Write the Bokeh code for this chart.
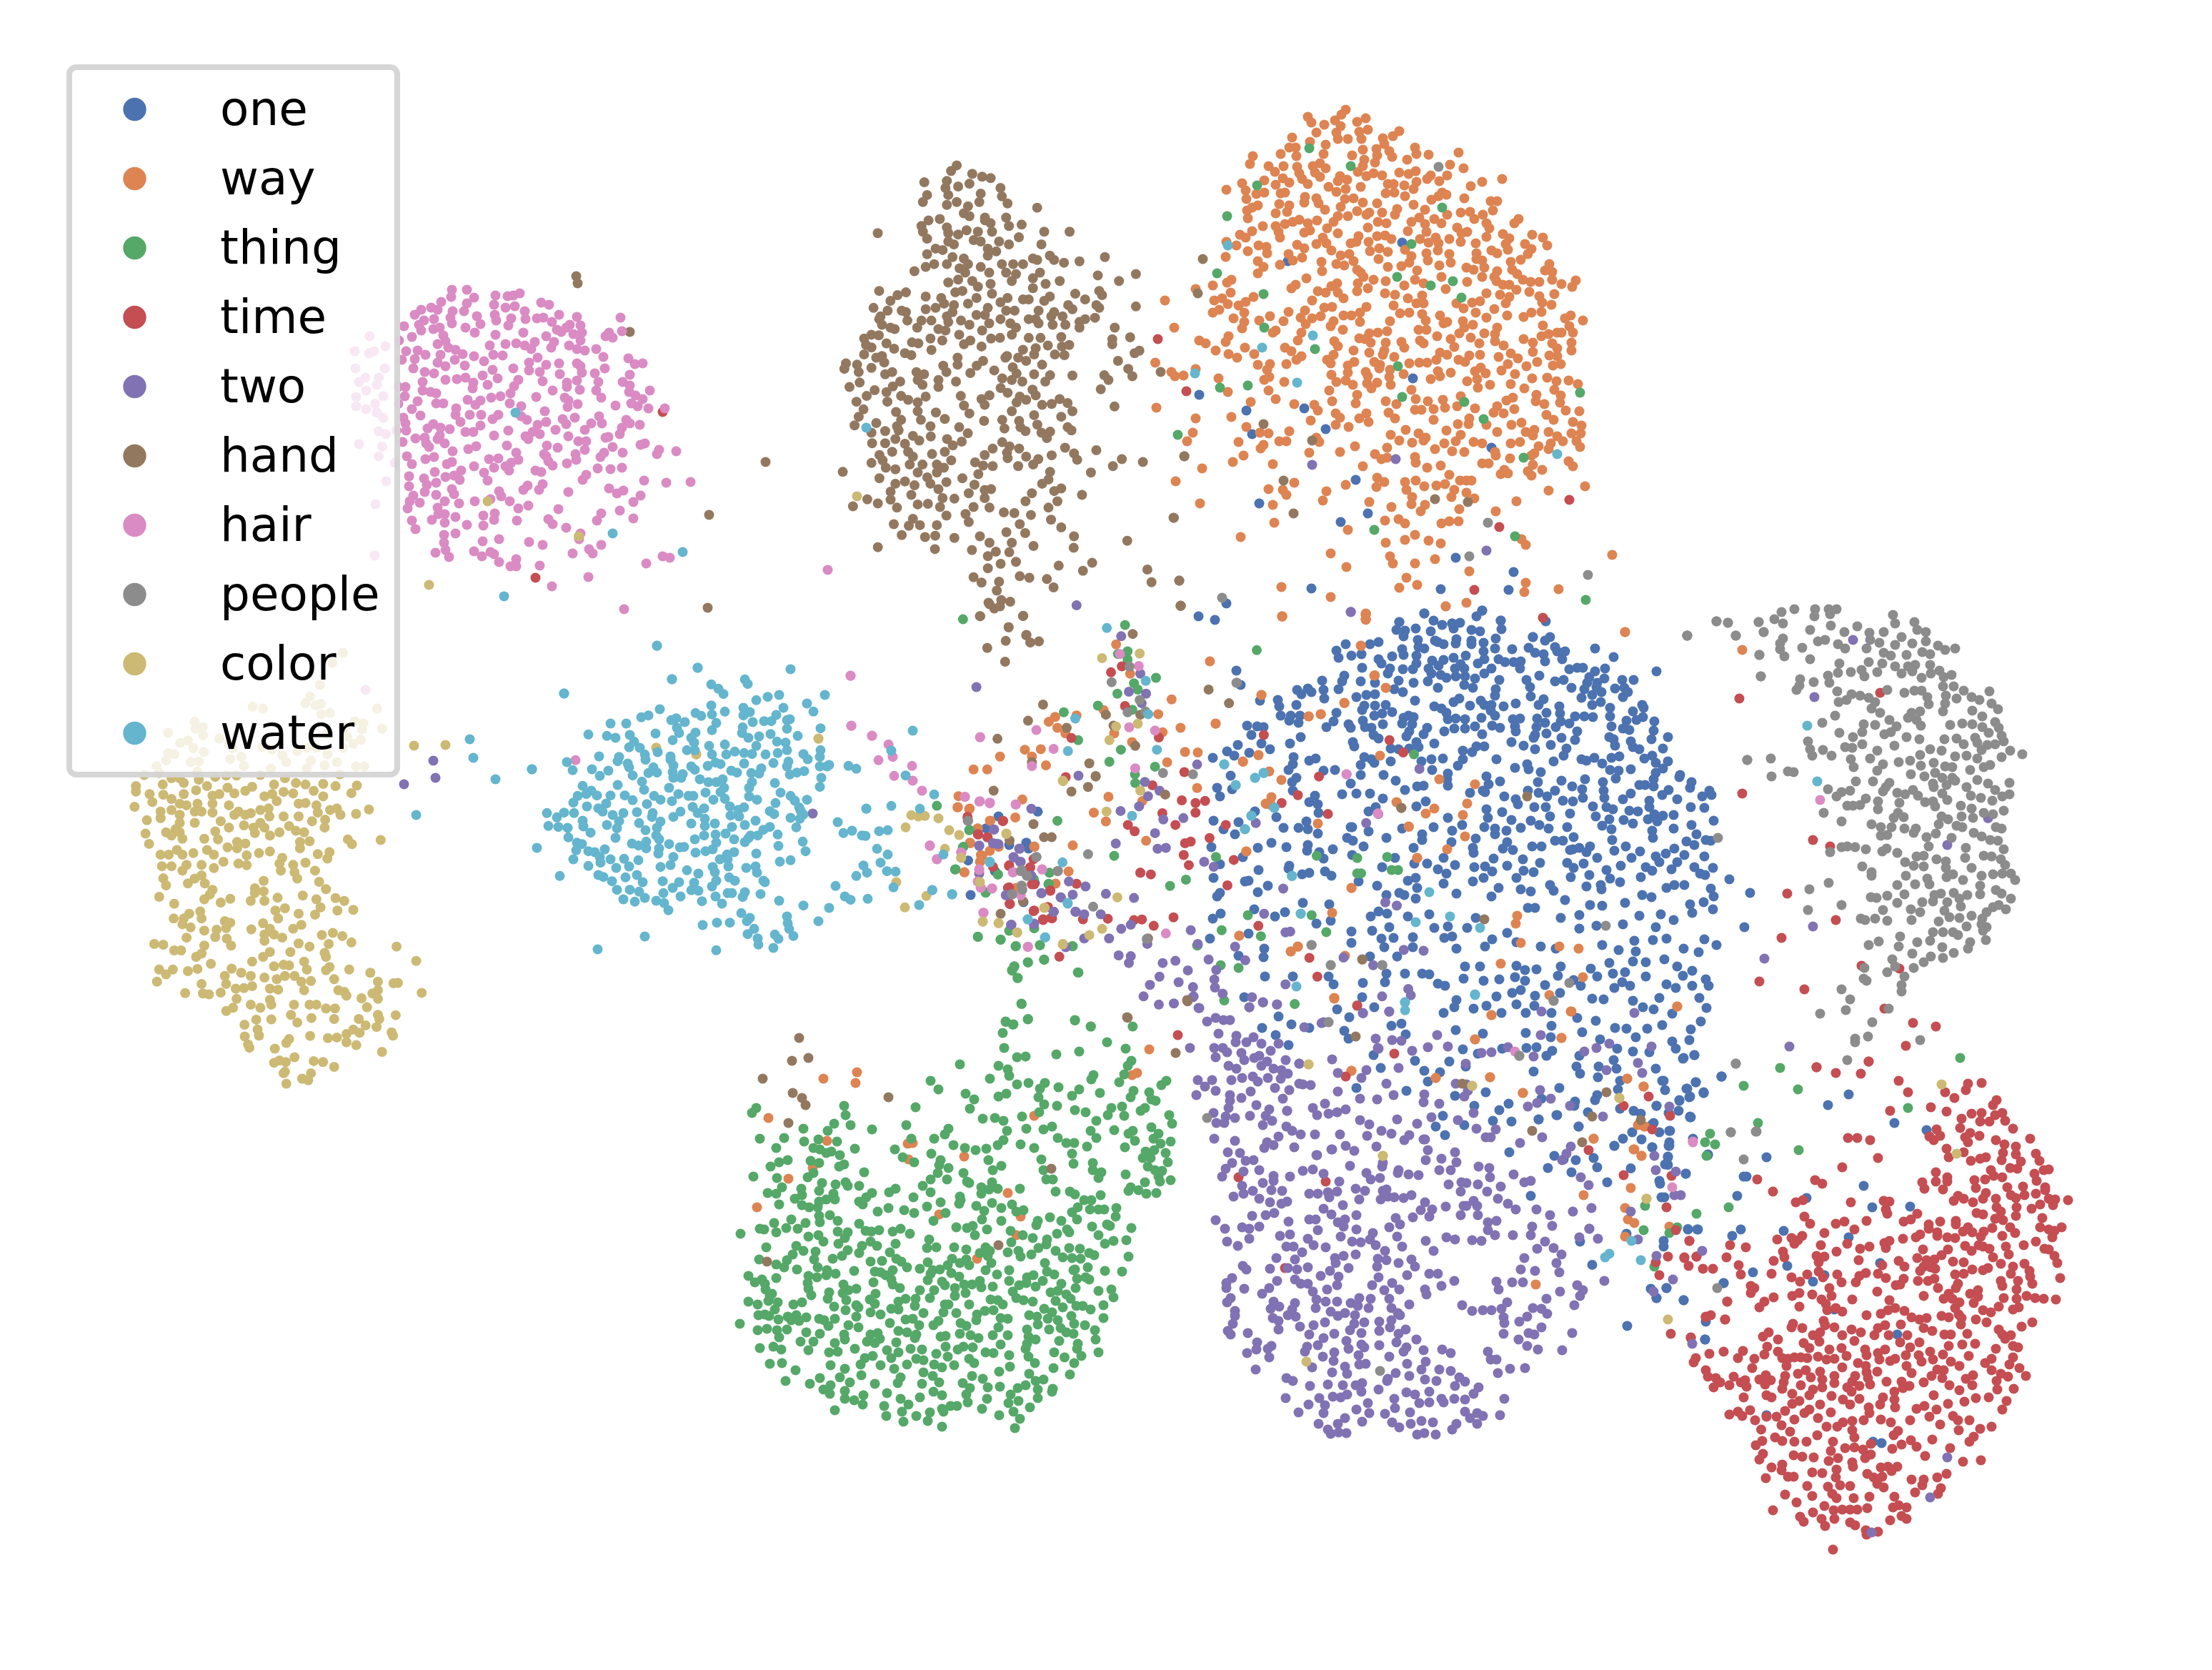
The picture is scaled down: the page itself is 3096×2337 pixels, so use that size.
from bokeh.plotting import figure
from bokeh.models import Range1d, Legend, LegendItem
from bokeh.embed import file_html
from bokeh.resources import INLINE

names=["one","way","thing","time","two","hand","hair","people","color","water"]
cols=["#4C72B0","#DD8452","#55A868","#C44E52","#8172B3","#937860","#DA8BC3","#8C8C8C","#CCB974","#64B5CD"]

A=(1620,130,2,2);B=(1700,850,2,2);C=(1650,1400,2,2);D=(1020,1400,2,2);E=(2300,1480,2,2);F=(2300,820,2,2);G=(470,370,2,2);H=(740,900,2,3);M=(1300,850,2.24,2.613);T=(1100,200,2.24,2.24);K=(60,900,2.613,2.24)

way_a=[542,62,530,76,436,82,446,98,512,92,574,96,598,86,482,104,528,108,460,126,516,126,604,118,580,124,692,122,674,136,392,140,520,144,548,144,586,144,646,142,486,160,442,152,650,158,384,168,402,168,736,168,590,174,628,172,664,178,360,186,404,192,282,192,480,186,740,186,774,188,858,182,560,190,630,190,672,194,714,202,274,214,326,220,368,220,406,222,450,220,470,212,594,202,624,210,590,220,834,216,872,226,344,236,412,240,456,238,486,226,576,236,526,248,600,248,620,240,644,246,692,238,718,242,738,234,780,246,826,246,804,262,770,256,314,260,366,254,420,256,470,250,546,258,660,270,676,270,740,264,892,276,924,264,980,256,252,268,346,272,384,266,436,270,494,278,520,262,584,278,706,274,262,288,208,286,516,292,542,284,654,296,678,294,732,284,812,294,292,298,314,294,372,294,360,296,428,306,460,310,564,310,708,304,802,304,824,300,874,310,948,318,966,318,264,312,426,322,356,326,384,330,296,330,466,324,540,312,590,322,630,324,732,328,782,314,266,344,280,336,346,352,378,348,484,342,528,334,574,346,608,350,644,350,686,340,764,342,826,356,864,350,890,348,954,344,268,366,412,370,462,372,520,360,548,360,600,356,680,356,726,376,748,364,790,368,902,368,926,356,1026,368,1014,380,310,388,346,388,372,382,394,376,436,380,508,376,632,376,656,380,764,382,810,380,936,380,604,392,426,406,354,404,490,394,716,402,854,392,768,404,944,394,520,408,280,402,246,412,262,420,358,420,442,400,578,416,630,416,652,414,750,424,794,420,866,408,882,404,936,418,982,410,1064,412,1094,420,478,420,572,432,606,432,670,424,832,424,864,432,906,436,1000,422,298,442,320,446,406,440,236,442,460,438,488,436,556,436,774,434,802,436,990,438,1044,438,1106,442,208,432,268,458,426,450,502,456,610,458,636,450,660,460,708,454,800,456,832,466,996,454,950,456,966,464,1062,452,322,464,382,466,206,474,528,470,552,466,768,464,908,464,1052,466,420,476,296,486,394,484,474,488,564,486,634,480,726,472,772,484,836,490,908,480,1032,482,1004,488,312,502,358,496,516,494,538,498,574,510,660,502,698,500,720,490,804,498,924,484,1112,494,296,520,476,514,584,518,742,512,880,504,900,510,930,504,966,514,1100,512,1120,516,1008,510,1022,522,222,538,432,534,592,530,810,530,924,530,958,530,1038,538,1060,544,1084,544,1120,538,1186,540,210,546,620,538,654,542,736,538,882,544,964,542,1146,550,1176,558,170,554,402,552,576,548,518,548,706,554,760,548,822,564,982,552,1000,552,1020,566,390,562,502,556,604,562,574,570,464,570,486,574,520,574,652,576,756,582,680,580,1056,572,1084,584,1126,578,220,574,122,564,284,586,448,596,536,590,716,590,974,580,1000,586,936,576,196,590,174,596,212,606,262,600,36,596,740,604,760,604,676,610,600,614,504,614,482,616,896,602,918,598,958,620,990,604,1092,602,1118,608,242,610,188,622,170,630,428,624,872,618,852,604,258,630,382,628,694,632,720,630,906,630,936,644,994,638,1090,628,1062,630,1040,642,330,640,416,644,472,640,536,638,558,638,582,630,756,634,1156,646,1172,638,228,646,300,652,368,654,448,646,508,654,582,656,666,654,766,652,806,638,816,660,826,656,870,654,1206,652,258,656,430,662,500,668,534,678,898,664,966,672,1094,666,1168,668,62,672,252,674,346,680,418,686,874,672,580,702,608,688,632,686,658,682,746,678,768,678,930,688,1110,690,1146,686,1178,686,132,708,214,696,338,686,408,708,596,704,612,714,798,696,860,688,892,700,960,690,1040,704,1090,696,1134,686,150,716,206,712,510,710,698,712,654,714,750,708,836,704,916,716,960,710,1066,714,1120,716,1174,714,178,736,260,728,372,728,520,724,706,728,760,716,846,726,984,722,1174,736,390,738,650,736,564,736,608,742,1134,730,1004,744,1066,740,214,746,286,746,508,748,646,748,806,742,918,748,970,754,1024,758,1112,750,238,756,418,752,404,762,678,754,826,748,888,750,876,768,858,762,1134,752,490,762,566,768,622,768,9,770,330,774,296,776,376,774,500,772,548,778,638,776,748,770,720,772,770,770,796,762,996,774,1048,780,1078,768,1122,778,1144,774,322,790,122,788,54,796,636,786,598,796,666,790,800,794,836,798,920,784,904,794,934,800,978,792,1016,802,64,808,88,806,186,814,328,810,502,804,548,798,604,808,704,802,664,810,806,808,910,816,1064,814,1106,812,314,818,516,824,542,820,562,832,630,826,602,828,668,832,780,816,882,822,1132,822,1166,820,1192,830,370,824,946,832,1042,842,1004,830,212,852,326,848,496,848,614,842,726,846,912,840,1126,846,574,860,864,864,1144,862,346,872,276,880,504,878,654,878,738,872,772,878,814,874,1076,860,1074,878,1010,868,992,876,398,886,570,884,684,886,1098,886,1142,882,12,896,454,888,820,896,854,892,966,892,904,898,788,900,736,902,754,902,1014,900,1158,904,464,904,662,910,514,912,600,912,956,910,984,912,1196,906,1104,916,222,922,122,926,444,932,526,924,580,926,606,936,680,926,788,930,888,926,1124,930,1178,936,1006,944,1034,938,1202,946,264,950,514,944,550,950,856,942,824,960,886,942,936,944,114,966,302,966,326,968,384,962,460,980,710,958,1070,958,1046,964,966,964,1110,964,668,972,864,972,746,968,766,980,1066,974,1134,976,1174,968,1200,968,98,990,356,990,376,990,242,992,468,992,692,988,728,994,760,988,850,990,900,992,924,996,1004,996,1030,992,1082,1004,1116,996,1150,990,1188,990,312,1000,568,1004,792,1012,818,996,1198,1006,304,1010,658,1008,526,1020,840,1018,874,1020,960,1020,1110,1012,256,1030,440,1022,624,1026,736,1034,962,1030,1070,1024,642,1040,658,1036,1002,1038,1062,1030,226,1048,338,1054,738,1050,590,1060,808,1058,924,1052,942,1052,1166,1046,1178,1060,140,1066,770,1064,1066,1056,1052,1074,1092,1070,986,1070,976,1082,996,1080,1062,1086,630,1092,832,1084,66,1102,650,1104,708,1104,738,1100,398,1106,542,1112,628,1118,796,1114,820,1110,862,1100,880,1100,894,1100,762,1116,1212,1116,326,1124,366,1126,712,1126,846,1126,488,1130,1110,1128,376,1140,880,1134,728,1146,838,1146,902,1150,478,1156,1020,1158,134,1164,338,1168,608,1160,726,1166,764,1168,670,1174,860,1180,752,1186,962,1186,342,1218,690,1208,708,1220,652,1212,810,1220,832,1214,858,1214,248,1258,548,1238,736,1252,708,1266,654,1274,774,1268,808,1276,1046,1280,1034,1264,500,1304,666,1312,674,1332,736,1332,792,1320,1288,1308,544,1342,888,1354,712,1372,742,1392,692,1400,362,1398,500,1426,1046,1386,1042,1412,1138,1404,364,1480,598,1474,598,1488,822,1452,880,1442,1324,1524]
way_b=[204,40,438,36,438,48,662,12,1164,84,424,122,462,206,494,240,146,260,378,282,278,320,312,314,18,340,94,446,138,428,168,474,202,498,174,546,158,564,304,620,478,430,558,628,524,560,630,578,606,592,710,596,716,656,722,564,744,510,644,496,666,692,582,716,104,698,398,800,344,870,84,934,248,964,228,978,380,990,816,1012,858,900,862,878,872,954,980,964,1034,970,952,1100,1046,1050,350,1108,398,1312,634,1332,786,1330,1014,1146,790,1156,744,1224,986,1220,1170,1334,1216,1356,1310,1132,878,1374,1076,1502,1188,1532,1210,1550,1202,1462,1218,1468,1492,134]
way_c=[450,10,1112,46,1410,32,844,124,1086,120,890,56,498,212,734,232,886,230,978,274,1270,234,1316,256,1176,402,1290,432,1310,450,1280,540,1264,596,1290,638,1272,628,1388,648,1264,676,1148,560,1014,810,1300,364,1320,368]
way_d=[374,216,280,234,370,246,126,344,290,408,516,416,530,414,518,460,250,484,182,514,94,594,674,452,796,554,604,614,832,620,820,672,710,738,870,338,1144,224,1158,218,1192,152]
way_m=[1125,53,1387,42,1387,65,898,217,1060,340,1415,268,1450,314,1372,160,1320,370,1208,418,1246,410,778,356,916,445,806,460,604,155,648,262,565,395,480,415,393,438,413,420,420,460,445,480,736,410,750,476,654,512,598,480,820,548,860,550,1050,560,1002,584,764,586,318,540,368,538,340,565,384,597,240,565,157,612,200,612,858,680,580,712,686,728,108,750,145,755,310,722,534,770,572,802,210,800,288,788,170,828,147,882,208,910,180,925,178,950,128,988,236,895,348,895,468,890,698,873,1012,912,455,985,680,990,1484,732,1522,822,1548,936,1342,1046,1174,1260,1152,1278,1288,1448,990,1220,1090,742,1075,738]
way_h=[1218,665,1215,712,1248,720,1272,800,1306,768,1250,860,1285,915,1278,940,1430,876,1235,985,1490,1032,1380,1050]

one_b=[602,32,628,52,532,56,652,64,680,60,702,58,764,24,748,40,816,52,818,76,942,54,524,78,548,80,578,74,620,82,684,74,734,78,758,82,954,98,906,98,544,96,584,106,632,108,692,104,734,108,802,102,1080,130,474,112,450,118,382,118,640,112,656,118,690,116,768,114,940,108,356,136,426,146,540,132,586,126,602,130,734,118,768,138,800,130,848,132,894,128,912,142,968,126,996,138,1132,154,362,156,398,150,474,160,512,152,544,148,580,150,624,164,656,162,684,156,718,150,770,160,936,146,974,138,810,160,828,168,852,168,872,166,940,166,988,160,482,172,428,184,580,172,642,178,704,174,752,172,870,186,1008,188,1030,184,1046,184,1108,186,76,192,506,186,542,188,570,188,614,186,688,186,714,186,790,186,770,200,1080,194,1252,194,88,232,378,206,500,200,648,204,622,200,664,212,690,208,716,208,744,214,924,206,1064,210,1106,214,1156,218,1188,218,316,220,372,222,424,222,530,220,572,226,612,222,812,218,888,218,968,222,992,218,1058,226,1086,226,246,246,276,242,362,244,320,246,464,226,542,252,518,244,640,240,714,232,738,240,802,244,898,238,1014,240,1050,244,1084,238,1136,242,1162,240,1172,252,258,258,286,252,440,260,464,258,800,262,900,264,1042,268,1072,260,1098,252,1158,266,192,274,142,276,322,270,412,266,576,276,700,270,760,276,936,272,1072,288,1122,296,1096,280,196,292,244,288,434,290,464,290,494,288,630,292,650,298,684,280,730,290,770,288,790,288,824,292,858,284,922,288,980,292,1212,288,1216,296,200,318,428,302,356,310,462,318,484,312,512,308,558,318,664,310,788,304,800,318,944,310,982,312,1186,306,1024,320,1050,320,1074,322,1122,320,1214,322,1246,334,228,318,254,318,224,332,250,338,430,332,544,324,572,322,668,328,690,326,716,328,762,324,850,328,870,326,918,326,984,334,1168,332,1196,330,328,350,348,334,390,342,454,352,486,342,540,340,568,342,610,352,686,354,744,348,792,346,814,352,856,348,916,350,940,338,970,350,1008,340,1126,348,1158,354,1176,358,1244,360,106,346,134,348,152,350,396,352,436,350,460,372,560,362,600,370,658,362,716,354,764,370,1030,362,858,362,912,372,944,368,1120,378,1238,384,1284,378,118,372,256,378,474,382,552,376,630,396,580,392,846,392,880,402,908,380,986,380,1024,386,1132,384,80,400,146,396,226,396,402,392,406,404,508,410,530,412,560,410,586,406,748,404,770,404,956,400,1180,390,1186,406,1204,412,1000,410,170,412,50,418,112,422,710,416,736,420,804,440,912,412,992,430,1136,402,1270,410,70,430,10,436,236,434,280,444,298,438,434,434,622,440,654,438,710,440,1042,440,1078,436,1126,436,1148,432,1218,438,1240,430,1284,446,462,450,508,446,594,446,964,446,1056,444,1100,452,1250,450,1270,466,234,454,222,470,320,472,352,470,424,456,454,440,856,464,890,454,928,476,696,458,1122,470,1146,472,1180,468,60,486,244,492,424,484,488,484,624,470,668,480,776,488,894,468,1016,516,1138,494,1250,478,1318,484,522,500,666,496,782,510,814,502,920,504,986,500,1102,504,1244,496,1350,504,22,520,64,524,232,504,396,508,548,526,582,516,600,514,668,514,1052,496,1316,490,1044,524,1104,528,1204,512,1220,512,1244,516,1346,520,30,544,234,528,412,536,450,536,730,534,766,528,826,544,922,534,968,528,1180,536,1286,526,1268,540,1400,528,1380,544,1406,540,296,542,372,538,486,550,606,558,772,532,858,552,892,528,946,544,1046,548,1106,548,1158,552,1232,556,1310,552,280,560,304,566,580,572,910,574,942,574,990,556,1018,558,1074,572,1112,574,1232,574,1348,574,1386,576,466,574,776,580,864,566,1130,580,1176,584,188,602,128,586,306,590,446,586,668,604,820,588,1010,592,1082,600,1200,586,1246,594,1300,596,1270,598,1412,612,12,612,82,616,272,614,846,610,780,604,900,612,954,600,1120,608,1160,610,1228,608,1254,614,40,636,208,632,250,632,276,636,304,648,396,630,540,634,708,624,628,630,770,630,800,634,924,624,1002,630,1100,626,1186,620,1350,624,1126,636,1240,640,72,650,400,630,446,642,596,650,680,640,832,640,872,632,950,634,1300,634,1364,650,386,660,496,660,746,662,800,650,1020,658,968,668,990,668,1128,666,1242,660,1390,666,6,686,136,688,174,674,216,686,402,668,596,666,678,672,834,672,1404,668,1358,680,1336,670,276,680,346,692,432,684,572,688,738,688,822,690,850,694,904,684,930,684,1018,692,1036,688,1066,684,1134,696,1166,684,1206,698,1278,704,1302,690,274,696,308,700,400,708,520,716,740,702,796,718,1056,700,94,714,320,718,574,732,656,716,878,720,1010,694,1086,716,1182,716,1250,712,1330,708,1386,712,30,734,224,738,610,732,688,736,742,742,834,738,926,730,1002,730,1048,732,1260,728,1310,728,138,750,260,762,280,758,324,754,484,742,640,748,772,740,792,754,880,752,1020,744,1152,738,1222,742,1358,742,1410,744,222,746,12,772,100,782,342,766,556,780,578,772,664,760,768,772,908,756,1112,750,1240,752,1294,748,1374,760,1456,776,110,780,470,794,582,800,656,788,738,782,860,772,1012,770,1064,764,1122,774,1208,770,1388,764,164,794,136,812,418,782,1056,796,1098,804,1150,784,954,792,1404,802,964,808,22,824,30,814,496,820,532,814,692,816,810,800,900,810,872,804,1096,792,1280,800,1302,792,1330,792,1514,814,262,842,336,846,546,820,578,830,790,824,996,834,1066,848,1100,850,1212,820,1238,826,1346,846,1412,824,1164,842,126,860,32,872,212,868,184,880,474,866,498,872,556,880,616,874,892,856,1036,876,1264,874,1384,840,1410,860,10,886,300,900,340,892,452,880,912,856,984,884,1204,878,1352,870,630,912,504,910,668,908,722,912,746,884,834,926,1084,906,1158,902,1250,910,1300,890,1498,910,110,928,398,922,456,920,482,942,516,940,570,938,680,936,792,944,1036,914,1190,948,1280,942,1386,944,2,942,154,970,398,954,490,966,570,966,658,940,860,952,928,964,1100,960,1146,974,1194,978,1242,946,1420,960,82,990,152,994,450,992,526,992,692,970,772,964,970,970,1186,1006,1274,1000,1328,970,1370,980,548,1040,596,1040,640,1068,716,1020,758,1020,860,1018,916,1028,984,1020,1120,1010,1222,1008,1310,1020,156,1048,334,1048,496,1040,616,1042,712,1054,812,1056,884,1030,976,1046,1068,1026,1130,1040,1164,1036,1352,1032,234,1048,492,1064,348,1070,430,1066,660,1074,768,1060,856,1050,884,1060,1020,1058,1086,1048,1222,1048,1326,1046,1390,1056,872,1086,940,1072,1040,1074,1156,1064,1178,1074,1280,1070,1306,1080,1352,1074,1398,1074,98,1106,428,1106,692,1114,804,1104,848,1094,912,1102,1072,1110,1134,1080,1372,1108,740,1138,776,1130,860,1126,982,1094,1104,1112,1186,1116,1260,1108,462,1134,656,1150,686,1134,818,1150,910,1130,958,1150,1030,1164,1214,1134,1244,1140,1392,1136,194,1160,230,1182,358,1140,392,1162,510,1186,538,1180,886,1150,1082,1172,1136,1192,1296,1152,1376,1174,148,1192,280,1192,378,1200,690,1198,766,1208,886,1206,958,1186,1044,1204,1168,1194,1226,1194,1268,1184,1348,1196,186,1212,390,1222,550,1210,956,1218,1194,1218,1296,1230,1344,1226,222,1240,710,1252,888,1248,916,1246,1094,1224,1142,1250,1186,1258,1306,1250,752,1264,820,1250,960,1256,1036,1270,1132,1282,1358,1268,460,1268,576,1284,672,1286,944,1270,1028,1300,1090,1300,1140,1306,1250,1306,1326,1278,480,1304,602,1312,646,1316,718,1300,908,1314,1038,1320,1272,1340,1434,1328,612,1342,412,1360,552,1368,1088,1330,1150,1340,1338,1362,1384,1374,688,1382,774,1372,980,1360,1024,1398,1086,1380,1144,1364,1276,1366,1344,1386,742,1410,812,1422,838,1404,930,1390,1080,1394,1252,1410,1316,1396,972,1436,1060,1428,1150,1418,1188,1424,654,1438,846,1454,922,1448,1022,1410,1346,1442,1286,1430,1240,1462,634,1468,714,1464,794,1452,1034,1468,1184,1484,1260,1484,660,1492,1210,1504,1288,1512,840,1540,1134,1522,1240,1526,966,1550,1076,1556,1396,1546]
one_c=[1534,228,1484,272,1462,244,1446,340,1022,348,1074,336,1134,368,1388,380,1258,402,1234,422,1386,422,1384,454,1186,482,1048,484,1092,460,1126,462,1114,496,1384,475,1280,485,1214,524,1000,562,1434,500,1172,755,1138,690,1440,655,1466,656,1268,668,1540,806,1380,820,1352,848,1428,854,1270,926,1488,964,1360,520,1374,566]
one_e=[32,0,158,8,128,16,234,68,184,114,162,84,68,80,136,102,116,134,146,124,532,148,590,118,114,164,148,182,90,220,52,150,44,198,8,172,154,242,88,262,40,266,196,288,84,292,360,294,76,314,134,340,296,348,304,348,278,402,66,406,62,368,288,496,264,514,408,500,718,198,808,218,632,374,656,434,762,432,472,408,590,518,140,496,168,496,72,528,72,544,418,598,522,624,490,642,678,590,322,616,240,646,80,660,36,662,52,688,128,694,190,754,188,804,360,1016,658,1090,682,1094,726,790,550,720]
one_a=[700,434,380,486,730,814,132,860,264,904,426,898,486,956,280,970,950,1008,570,1098,300,1164,604,1192,528,1216,850,1316,1012,1356,446,1402,808,1404,998,1406,208,1444,130,1480,176,1490,692,1496,762,1472,924,1464,840,1500,976,1492,1066,1538]
one_h=[1295,800,1330,750,1408,860,1414,885,1440,730,1245,935,1320,980,1360,870,1432,1030,1390,1060,1252,1080,1400,1110]

thing_d=[834,24,790,74,812,82,852,68,984,70,1028,88,782,106,786,148,1074,132,1126,150,996,158,846,172,822,174,932,166,662,194,1142,184,770,198,796,208,800,226,1132,198,746,234,580,240,854,246,822,250,1036,224,1030,236,1122,222,1108,244,938,258,900,246,886,262,602,264,996,264,1240,240,1226,252,1148,268,678,276,770,284,792,276,1054,274,976,282,882,286,1192,272,702,292,1140,286,1198,292,1210,296,338,310,92,316,80,330,538,314,898,306,934,310,1116,312,1086,316,690,318,1180,316,1168,324,342,336,884,328,984,322,1014,328,1076,336,1122,338,1248,336,310,360,726,346,760,344,784,352,836,340,1044,352,356,364,512,364,416,376,224,374,292,380,848,374,794,380,920,368,896,376,1028,380,1094,378,1198,370,1256,360,630,374,1146,380,1134,388,1218,388,102,402,170,400,266,404,526,402,590,402,620,390,784,406,936,400,1044,400,1204,402,226,410,318,410,960,414,982,414,1152,408,1252,410,1224,416,148,428,252,428,368,430,644,420,768,420,832,418,676,428,706,434,736,430,870,428,1018,424,1124,426,480,432,270,432,288,442,302,438,326,448,502,454,582,444,976,444,1182,438,1238,442,1206,434,180,462,156,468,244,464,268,470,534,468,608,462,742,462,890,460,1174,456,1196,456,1244,468,132,480,338,474,324,480,604,476,630,484,778,478,1034,470,980,472,1188,480,252,498,394,496,600,498,672,498,754,490,896,490,1034,490,1058,496,1208,490,1228,492,84,508,150,512,236,510,580,516,626,516,682,522,904,516,922,516,1050,512,1126,502,1218,508,1252,518,276,526,314,530,342,524,348,534,380,534,558,534,688,526,752,524,1222,522,164,538,218,542,482,542,722,538,744,544,768,542,830,542,1140,538,1180,524,124,554,148,556,268,548,220,560,308,556,416,554,464,552,400,566,532,566,580,552,662,564,722,556,930,550,970,550,984,558,1056,560,1134,548,1162,546,1184,556,1212,554,200,570,288,572,312,572,268,578,380,578,664,574,1010,574,608,580,752,582,156,586,220,588,390,586,570,592,660,584,708,590,808,586,1030,574,240,594,264,594,462,596,506,602,534,610,778,596,840,602,992,594,1026,600,1050,600,1066,600,1100,596,432,606,622,610,730,604,820,606,976,608,268,618,298,616,1098,620,190,628,588,632,724,628,914,622,990,628,880,632,270,636,320,632,142,638,230,638,380,640,778,632,946,632,1074,642,876,644,652,650,698,646,1032,648,1082,646,1142,652,48,668,102,654,114,656,176,652,208,654,320,662,398,660,414,662,436,658,474,662,496,654,682,652,738,656,148,664,804,660,962,656,934,668,968,664,238,676,348,664,522,668,704,672,838,672,1050,672,266,672,280,690,340,680,576,684,866,680,906,684,806,692,1128,686,1092,688,1068,696,322,696,412,690,482,696,430,702,120,706,204,702,570,708,596,706,646,706,680,712,734,706,746,716,796,720,826,716,882,708,904,698,968,708,998,710,1024,722,224,716,258,718,388,702,348,714,194,726,380,722,466,720,718,722,832,732,862,726,930,716,1038,728,1134,732,100,740,178,742,306,738,254,740,332,730,444,744,484,738,498,746,572,748,640,738,680,740,740,730,900,750,950,734,976,736,1000,738,148,754,170,762,412,746,514,762,550,766,688,756,750,750,662,750,1020,762,206,768,264,762,366,772,474,770,586,770,606,768,628,756,734,770,800,770,906,774,980,770,984,768,70,786,288,784,314,780,238,786,424,774,440,776,580,780,638,778,766,782,926,782,850,790,868,784,1068,772,1116,774,108,796,148,792,290,770,262,790,470,796,454,784,660,788,800,800,990,794,1024,796,88,804,116,808,236,806,336,810,420,804,572,798,612,802,696,810,718,800,848,806,894,800,946,808,1014,790,474,810,620,812,674,810,754,816,118,824,238,822,296,832,372,822,350,826,494,820,550,826,590,826,648,820,678,834,722,818,828,812,874,816,916,832,1050,828,986,820,936,828,1086,824,130,842,136,836,246,840,334,834,426,836,538,850,648,842,810,830,960,838,1092,846,70,858,126,856,196,866,220,860,292,850,344,854,410,852,510,850,578,848,748,852,768,854,820,848,840,854,866,858,930,856,972,850,96,866,152,860,310,872,372,868,424,864,490,858,620,866,630,866,688,866,782,866,1064,868,144,880,342,882,378,874,536,870,470,878,756,882,950,874,988,870,1006,870,1028,880,98,896,116,894,128,898,180,900,204,896,232,902,412,888,490,880,560,890,616,888,652,890,732,884,710,894,898,878,920,888,974,898,154,908,190,910,268,906,312,906,372,900,440,894,510,908,530,906,602,912,776,904,796,906,856,896,878,900,908,906,936,910,1064,904,212,912,282,910,350,924,466,918,588,924,664,918,708,910,982,920,1012,924,46,920,96,938,122,934,150,938,178,936,232,944,294,926,378,930,412,950,548,924,680,926,770,930,850,936,880,922,912,936,944,932,1040,938,270,948,338,950,432,946,490,940,514,944,540,950,608,956,622,954,662,948,692,952,796,952,754,952,854,956,960,944,156,958,340,964,402,970,438,962,484,972,536,960,714,960,874,964,980,948,1042,964,216,970,252,970,312,974,424,974,524,990,622,984,672,984,776,978,850,976,940,968,992,976,102,988,140,984,162,992,238,994,296,1000,368,990,458,994,490,1000,556,992,698,986,734,1000,756,1002,846,990,926,1000,990,990,320,998,470,1016,596,1004,656,992,800,1008,955,1014,1002,1010,130,1032,164,1030,300,1036,396,1016,418,1010,540,1018,628,1012,688,1018,854,1012,982,1030,202,1050,340,1046,384,1034,440,1036,514,1034,560,1022,590,1034,646,1036,702,1030,802,1040,872,1030,924,1044,1050,1000,478,1046,560,1056,612,1042,772,1054,856,1060,970,1062,174,1080,242,1088,270,1072,326,1070,386,1064,354,1084,424,1088,496,1070,586,1066,696,1066,726,1074,896,1076,874,1080,604,1084,670,1086,300,1092,280,1104,488,1086,556,1088,774,1096,740,1098,846,1092,922,1102,920,1110,340,1108,458,1114,588,1110,690,1100,824,1100,804,1118,880,1104,298,1116,392,1120,340,1130,496,1130,550,1126,612,1120,680,1118,738,1130,880,1128,366,1134,390,1146,450,1150,518,1146,636,1150,654,1150,684,1140,826,1136,798,1142,312,1162,612,1158,724,1158,812,1166,858,1154,616,1166,456,1178,500,1166,578,1168,772,1176,830,1186,504,1194,540,1178,572,1192,612,1208,816,1212]
thing_m=[124,63,42,745,144,833,125,895,99,978,234,996,395,990,393,1030,346,1014,195,1063,632,84,610,190,640,180,640,210,608,335,660,297,672,320,729,277,655,394,547,379,440,403,485,505,583,584,619,540,726,602,663,630,664,662,420,800,598,928,773,1038,823,1015,917,932,858,1256,935,1200,1017,1145,1058,1222,1045,176,1360,936,1233,928,1454,932,1360,992,1372,992,1468,980,1488,980,1538,557,171,1224,242,1234,290,1258,365,1255,467,1258,328,1318,378,1307,285,1332,278,1348,295,1375,486,1355,308,1470,258,1535,280,1545,328,1525,475,1530,525,1552,656,1552,860,1255,932,1328,988,1338,943,1457,1164,1470,1263,1207,1217,1145]
thing_a=[440,170,556,220,294,274,812,336,210,360,726,438,686,530,780,554,842,542,866,588,182,520,312,578,314,672,456,732,688,780,268,834,190,840,700,866,874,880,928,928,1198,854,1040,1036,72,972,622,1238,1016,1256,1214,1434]
thing_e=[902,16,398,44,296,94,448,104,756,156,336,198,202,228,188,252,216,258,450,274,254,434,164,452,192,290,20,430,16,498,110,490,88,506,46,600]
thing_h=[1248,808,1230,880,1210,972,1328,994,1295,1068,1470,1035,1360,1230,1430,1220,1272,1255,1336,1268,1378,1295,1446,1290,1412,1362,1458,1352,1374,1380,1368,1395,1384,1428,1552,1405,1538,1295]

time_e=[646,26,500,42,554,58,624,60,730,80,962,86,924,88,756,112,860,112,918,106,886,128,1004,134,994,148,820,154,706,164,864,166,1020,170,934,172,962,170,906,186,958,194,984,194,1028,192,1000,176,902,212,1050,214,836,216,930,226,956,234,916,238,816,236,846,234,828,246,588,240,614,240,650,246,1098,242,1002,246,924,252,1058,264,864,270,1026,258,1114,284,1022,282,1058,286,672,296,870,294,912,280,974,294,958,298,932,304,1018,302,1072,306,1124,304,572,322,1042,324,1062,326,1150,328,1136,330,1110,340,834,336,866,350,988,330,1020,350,996,346,334,356,496,358,516,368,796,364,834,362,866,362,942,358,972,356,1116,360,378,390,1034,378,1078,376,1140,378,802,382,946,380,854,384,1140,386,974,394,1044,400,1082,400,1114,396,442,420,462,414,596,420,688,416,704,418,884,416,896,402,912,410,938,420,966,410,1002,410,1058,408,1204,414,1168,412,1150,410,1126,426,1102,438,1162,428,694,440,698,452,1004,434,1016,446,1060,434,782,452,948,450,966,454,466,460,1058,458,1132,464,640,472,578,474,554,480,482,480,744,474,764,468,814,482,846,474,890,472,890,482,1000,466,1022,470,606,496,1042,490,1126,490,1150,496,1186,490,992,492,924,490,522,506,814,494,838,504,838,514,910,502,936,504,968,502,1056,506,1020,514,1166,500,390,524,430,520,460,514,448,526,690,534,704,528,742,522,778,518,790,510,866,518,888,520,960,516,1160,518,1114,530,144,528,258,540,302,546,438,536,512,540,586,536,622,550,648,544,694,548,916,542,954,540,966,544,984,550,1080,540,1030,544,406,558,556,558,798,552,868,552,850,568,934,556,1138,550,1150,552,1038,566,410,574,500,570,522,572,248,574,130,574,164,572,380,584,618,582,730,584,782,576,808,582,830,580,994,574,1166,570,142,598,182,606,282,596,506,588,684,596,746,600,882,586,912,588,1016,592,1082,592,1174,590,800,600,820,602,936,608,966,610,980,604,1050,600,1096,612,288,622,374,620,430,630,474,622,506,614,518,630,558,622,620,626,638,618,672,620,694,632,790,612,832,606,912,620,888,622,1044,620,1098,628,1182,632,454,642,570,644,610,644,744,634,734,650,722,652,784,640,812,640,830,634,896,648,1016,640,1064,640,1104,648,1020,654,536,660,316,654,326,660,670,670,840,660,890,660,952,666,1060,664,316,674,432,682,452,674,488,678,542,682,800,682,870,676,930,676,952,684,856,690,1024,688,1088,682,1112,688,1136,690,1170,692,380,686,354,698,340,714,250,698,514,692,600,692,704,694,880,690,940,702,900,700,1060,690,452,712,526,704,530,722,554,716,572,726,720,716,746,724,888,716,966,722,988,728,1010,712,1066,714,1050,720,640,736,680,732,700,722,204,736,190,742,244,748,520,752,850,738,870,742,898,734,906,744,946,748,976,756,1104,756,434,760,430,770,460,772,524,764,550,770,598,776,692,764,672,772,766,742,788,748,808,744,736,762,904,762,1010,776,1074,768,366,784,490,792,510,784,572,792,624,784,662,792,702,792,754,792,800,772,824,780,858,790,876,790,922,788,1020,790,1044,792,350,796,392,804,148,800,606,808,508,810,734,812,788,812,1028,802,464,814,870,822,908,818,944,816,1050,822,1064,826,240,838,294,836,362,824,392,838,570,828,480,828,536,832,636,832,692,832,762,826,818,838,1002,830,354,846,438,854,404,856,474,856,504,852,584,850,640,848,672,842,750,848,786,848,826,860,854,846,926,850,280,856,326,858,420,858,456,854,528,860,550,858,676,860,706,864,720,858,794,866,990,858,1050,854,162,856,200,844,156,868,616,870,638,878,416,878,876,866,900,878,972,870,1040,874,320,884,572,882,752,878,838,888,1068,884,190,890,470,890,510,894,856,890,990,890,196,908,268,908,358,904,412,906,448,900,484,910,550,906,608,906,640,896,670,894,766,898,822,906,938,904,1016,900,1036,908,1086,906,218,912,300,918,340,916,372,918,408,924,516,916,600,922,644,912,696,922,738,922,852,912,918,914,1004,920,230,924,256,932,288,924,304,936,356,930,516,938,550,926,620,934,650,930,760,934,800,924,872,932,936,932,1052,942,212,938,404,942,456,932,490,944,586,938,742,940,1006,944,296,966,360,960,432,956,542,962,574,972,598,950,620,970,718,950,828,960,900,946,982,966,1032,976,374,966,480,960,686,966,946,968,914,978,432,984,452,976,510,986,594,986,678,986,718,972,868,984,1020,1000,280,1006,314,1002,412,1004,480,1000,646,994,720,994,780,998,802,990,836,1000,256,1014,292,1018,466,1010,540,1008,648,1010,816,1020,882,1018,360,1020,328,1030,388,1020,438,1028,504,1024,632,1030,680,1028,762,1030,928,1030,896,1030,600,1032,574,1036,708,1036,402,1044,846,1042,345,1056,426,1062,528,1048,558,1048,728,1060,898,1058,958,1054,990,1048,502,1072,600,1058,348,1088,384,1078,404,1088,606,1078,716,1072,824,1084,940,1076,928,1090,330,1100,438,1090,472,1090,652,1096,546,1090,738,1098,780,1104,764,1086,712,1110,580,1108,606,1106,630,1112,540,1116,874,1108,436,1128,460,1132,492,1134,350,1124,340,1140,652,1126,636,1136,804,1130,560,1136,534,1144,600,1148,910,1146,960,1142,404,1154,374,1162,680,1162,700,1160,726,1160,556,1168,602,1160,402,1170,420,1188,488,1176,516,1178,642,1180,864,1180,710,1172,660,1190,684,1188,358,1192,436,1188,554,1190,766,1196,800,1196,838,1190,474,1214,532,1216,566,1212,594,1214,670,1208,688,1218,796,1212,848,1220,412,1238,488,1242,544,1236,556,1248,776,1232,840,1236,604,1248,648,1244,718,1244,444,1260,378,1282,522,1270,490,1288,548,1282,572,1280,594,1280,614,1280,642,1276,714,1274,752,1274,730,1268,454,1300,514,1306,550,1306,706,1310,738,1298,752,1306,464,1314,524,1326,594,1316,608,1324,638,1338,640,1350,672,1342,546,1392]
time_m=[1123,735,1067,486,1174,706,1268,775,1461,505,1504,550,1240,638,713,996,680,990,784,1153,685,1161,722,1184,660,1163,953,1036,1050,1184,1210,1301,1235,1370,973,943,1360,1475,426,1297,810,725,853,735,883,727,853,770,749,772,832,962,820,882,838,876,897,863,816,925,790,815,948,815,662,838,641,815,718,670,818,622,464,497,446,640,250,800,138,785,172,850,200,860,218,968,270,1103,345,1130,375,1160,400,1155,390,1115,500,1160,578,1158,268,965,335,970,345,940,340,1032,398,1055,265,1045,480,1030,622,235,588,257,632,380,738,495]
time_f=[284,330,678,314,292,596,490,726,538,744,418,876,554,950,402,1000,340,1122,466,1144,626,1078,732,1086,690,1198,770,1238,834,1248,750,1302,500,1362,646,1346]
time_c=[12,112,514,30,482,228,618,164,426,522,182,510,312,764,1330,284,1260,310,1390,338,1340,376,1162,434,1260,504,1394,506,1380,594,1406,658,1444,688,1430,736,1384,732,1350,748,1464,732,1510,766,1360,784,1550,858,1490,900,1544,908,1392,948,1448,958]
time_a=[16,704,96,850,1168,1154,972,1230,902,1406,1094,1484]
time_g=[930,428,574,892]
time_h=[1244,760,1272,825,1300,838,1342,770,1360,955,1418,965,1430,1035,1475,1062,1360,1048,1362,1118,1430,1145,1455,1185,1480,1178]

two_c=[118,64,94,74,158,70,140,70,126,108,176,114,224,118,46,148,114,148,138,148,174,132,204,132,246,136,294,136,150,160,190,162,240,170,272,156,118,174,314,182,352,192,198,182,226,176,262,186,154,198,176,206,246,198,280,206,302,210,222,228,320,220,192,232,264,232,68,238,108,238,162,238,236,242,300,234,362,250,384,252,118,268,88,256,64,280,216,270,284,260,324,266,158,280,158,296,306,290,190,288,154,316,232,308,268,320,318,324,112,330,214,338,258,338,172,344,146,340,120,358,142,358,276,352,250,364,316,368,332,380,356,390,114,402,172,408,262,412,294,396,338,426,254,428,280,420,152,440,186,442,402,448,444,432,202,464,224,462,164,470,146,486,136,508,240,490,196,494,280,506,326,508,362,492,390,488,420,500,464,522,280,520,250,526,274,546,192,534,222,548,304,548,168,564,196,556,240,570,270,580,302,584,318,578,380,556,404,556,432,552,458,550,436,566,510,542,536,548,520,572,474,588,420,598,442,614,282,610,258,616,220,618,118,630,322,634,380,628,398,628,460,636,480,628,512,616,476,648,512,656,144,654,192,650,212,654,240,648,404,658,326,670,298,674,468,676,150,690,180,702,212,682,376,682,392,700,426,706,500,690,524,692,550,684,566,700,558,666,316,704,336,704,360,720,476,730,452,736,510,726,592,716,288,736,340,740,454,750,572,738,596,742,630,750,270,766,320,764,346,768,376,762,490,764,194,758,204,768,164,792,570,760,654,784,412,786,438,772,462,788,290,800,148,806,340,796,356,808,376,808,148,820,390,830,198,822,268,820,458,812,430,824,556,812,574,790,612,806,632,824,248,836,160,848,150,860,400,852,458,858,520,848,552,850,280,858,340,862,426,858,496,862,546,876,590,826,604,850,272,878,296,872,332,880,398,876,440,886,480,890,516,870,610,876,172,884,320,896,342,900,460,898,508,896,628,890,660,866,172,898,278,904,294,912,424,916,392,924,506,920,534,916,576,914,610,910,634,896,166,920,354,928,294,936,152,940,208,946,380,950,494,938,526,946,606,930,650,936,160,950,450,948,576,940,630,948,234,972,264,990,274,982,420,960,484,968,404,980,526,978,576,980,624,972,680,964,232,992,206,1002,368,998,374,984,450,1000,490,990,534,986,652,986,700,994,268,1014,418,1012,518,1008,604,1012,644,998,752,992,776,1002,448,1024,388,1042,480,1040,520,1034,538,1032,654,1032,706,1026,230,1048,444,1056,486,1060,622,1058,694,1048,744,1048,776,1052,316,1072,334,1080,432,1090,474,1092,600,1074,660,1066,704,1076,736,1080,800,1070,816,1082,382,1094,510,1092,528,1086,574,1104,598,1080,788,1094,314,1128,408,1128,446,1124,486,1118,526,1110,618,1130,652,1112,676,1118,716,1110,854,1098,840,1116,378,1146,424,1148,468,1126,544,1142,688,1142,716,1140,750,1130,786,1130,816,1132,926,1130,350,1168,420,1170,512,1160,548,1170,620,1156,662,1168,756,1140,816,1166,850,1170,866,1178,914,1176,406,1200,480,1184,528,1194,592,1172,612,1196,664,1200,694,1192,726,1196,792,1200,830,1184,432,1216,460,1200,632,1210,780,1216,850,1200,440,1228,484,1226,462,1224,682,1230,702,1226,734,1230]
two_c2=[744,490,820,526,770,530,806,524,852,530,886,510,952,502,916,536,1000,520,982,524,854,480,884,484,804,550,820,590,850,590,908,570,936,584,958,600,1016,600,804,616,852,616,880,636,904,632,880,658,900,672,950,672,1004,648,1000,672,1054,616,1060,646,1040,690,1018,710,1064,708,1086,726,1072,750,1080,776,982,736,972,768,1012,772,904,802,910,824,948,804,978,804,1082,830,1130,812,1146,826,1138,842,1044,850,1122,868,934,860,918,878,808,868,836,884,866,882,890,882,924,902,926,918,968,914,990,900,1006,876,1030,878,1046,892,1030,930,994,946,1010,950,1116,946,924,948,966,964,990,982,1020,992,1088,994,880,998,888,1020,904,1020,942,1046,984,1044,908,1058,704,580,724,600,692,602,670,622,716,620,762,592,840,576,812,590,878,550,764,678,788,684,836,686,862,688,706,688,728,716,666,740,676,760,716,780,740,780,786,800,750,814,704,824,708,838,622,624,604,650,634,642,626,676,640,704,580,572,618,566,586,548,600,564,644,568,666,560,630,490,596,544,578,512,584,480,540,498,552,516,494,478,628,498,658,502,686,504,750,458,776,490,792,468,706,462,712,434,788,440,704,404,700,404,568,424,586,470,506,436,482,422,442,432,400,448,396,390,466,390,542,394,582,380,610,388,646,406,660,392,626,348,522,350,548,362,682,360,722,342,796,350,848,374,902,376,874,398,888,398,970,414,1032,398,1112,424,1100,444,1088,462,1140,510,1162,532,1170,596,1118,606,1164,654,1136,678,1188,682,1206,800,458,328,482,320,434,332,402,336,424,304,390,316,318,324,522,290,570,292,616,280,700,300,744,304,840,330,814,284,824,268,820,250,790,248,702,278,630,204,596,248,540,210,526,232,460,270,460,218,444,180,352,192,366,90,420,76,352,248,574,150,572,148,566,122,612,126,638,128,668,156,712,146,738,112,768,144,818,192,530,50,604,46,290,26,250,20,212,34,70,36,54,6,862,162,890,160,936,146,1008,172,1028,112,1030,46,1056,290,1018,302,992,312,1026,266,1150,158,1184,148,1220,136,1290,50,1212,210,1300,190,1312,218,1338,144,1202,340,1110,310,1388,312,1346,450,1350,490,1406,494,1420,560,1280,606,1402,560,1164,654,1300,684,1352,730,1452,976,1480,716,1398,796,1344,830]
two_m=[480,12,1340,36,166,311,680,262,644,328,698,335,684,370,620,125,858,594,694,658,740,690,704,710,486,635,676,747,618,764,603,883,734,902,760,899,726,845,752,795,815,790,338,756,220,832,175,892,218,882,235,885,300,902,283,934,305,950,338,1000,880,950,910,968,1042,808,456,1022,508,1040,370,1065,258,1072,430,1080,468,1070,572,1067,660,1082,408,1133,478,1133,504,1142,556,1142,346,1178,276,1180,650,1180,620,1195,582,1230,504,1230,702,1250,446,1262,612,1292,650,1295,644,1320,750,1320,790,1312,860,1250,918,1345,894,1307,1009,1310,829,1347,977,1260,710,1400,740,1370,800,1390,845,1408,912,1380,914,1410,690,1442,738,1472,785,1468,847,1442,865,1485,1030,1445,1065,1464,1022,1482,1108,1472,938,1432,1135,1398,1128,1048,1068,1140,838,1200,1135,1208,1150,1205,1317,1300,1388,808,1426,775,1448,1098,1484,1110,1410,1328,1438,1442,1506,1272,1520,1415,1528,1438,1460,1498,1378,1504,1248,1540,1555,610,1568,1275]
two_g=[288,1404,294,1452,206,1470,1350,1552]
two_e=[866,1134,818,1246,654,1344]
two_a=[682,1040,448,1056,936,1296,556,1468]
two_f=[494,326,602,166,866,740,980,665,490,968,354,1058,424,1304]
two_h=[1318,805,1276,872,1325,865,1390,885,1372,920,1390,940,1276,990,1450,1072,1355,1080,1505,1090,1545,1150,1485,1150,1365,1205,1430,1200]

hand_s=[682,121,678,125,693,127,700,129,706,130,659,133,675,132,674,137,683,136,691,134,713,137,676,142,699,141,714,143,661,142,658,147,675,149,682,147,698,147,718,148,739,151,690,150,687,155,691,157,702,158,717,158,662,160,670,159,702,160,706,162,728,163,657,164,675,165,719,164,626,169,658,168,676,169,689,167,697,168,707,168,744,168,762,168,661,173,683,170,726,172,694,174,699,175,712,175,719,177,676,175,680,177,742,177,661,184,667,180,672,181,704,180,710,182,679,186,704,185,687,187,736,187,748,185,751,188,769,189,787,186,666,191,660,193,675,191,690,191,699,193,714,191,722,191,729,191,739,188,758,190,652,196,684,194,688,197,705,197,717,197,724,198,741,197,782,199,809,198,683,202,676,204,693,203,721,203,736,201,755,203,797,203,706,205,745,205,697,207,736,208,627,210,646,211,681,211,686,210,707,212,783,210,640,213,635,217,660,214,671,215,696,215,718,215,729,216,748,214,766,212,773,216,785,213,673,219,690,219,713,218,733,216,744,217,680,220,623,222,809,221,660,223,667,222,704,222,761,220,781,220,633,224,643,224,723,224,717,224,740,224,764,223,783,222,751,225,679,225,628,228,646,225,675,228,696,227,702,227,749,228,757,228,780,229,627,230,647,231,657,231,664,231,685,231,713,230,733,230,738,230,773,230,769,232,654,236,676,232,705,233,720,233,740,233,629,234,635,236,638,237,669,237,674,238,691,234,700,238,724,236,750,234,759,234,769,236,794,236]
hand_t=[262,630,285,618,308,620,332,645,412,642,432,645,470,630,507,636,560,618,595,636,630,655,660,630,688,628,725,618,778,628,815,628,880,625,1040,632,1096,626,268,650,285,658,356,662,473,666,575,648,760,665,800,660,838,652,905,650,882,655,1040,648,262,680,318,685,390,676,410,682,555,690,710,685,795,680,860,680,890,682,1125,668,1110,676,205,708,240,712,300,690,325,705,555,712,635,700,705,690,745,690,1058,700,200,725,245,735,285,722,350,735,328,742,510,715,615,715,670,730,728,720,770,700,820,712,1090,725,426,735,450,742,520,735,595,738,695,755,740,740,795,742,845,745,915,746,1015,745,1103,748,1028,760,248,768,375,765,430,760,495,760,550,765,725,760,758,765,830,765,216,782,295,792,332,798,352,780,445,775,495,782,690,785,790,790,1004,789,378,810,400,822,565,810,630,820,655,808,712,800,750,812,800,808,270,810,238,828,335,828,430,830,455,812,575,840,640,838,740,830,770,822,820,838,850,835,875,820,900,832,260,852,362,860,430,858,487,862,592,865,725,858,795,870,880,875,915,858,1047,843,245,875,378,885,440,885,515,882,638,888,695,885,748,888,232,902,300,895,365,905,470,905,560,908,702,912,752,908,805,900,900,908,285,925,328,920,370,918,415,935,471,937,587,927,768,920,818,925,845,922,912,918,360,945,522,945,568,953,695,955,835,942,287,958,328,958,390,960,435,950,540,965,665,975,718,968,748,975,892,972,990,980,350,985,400,985,475,992,515,985,640,995,710,988,850,996,920,990,1070,1008,310,995,285,1020,320,1012,360,1040,415,1000,535,1012,610,1018,712,1005,770,1000,808,1008,930,1010,1136,1017,1042,1030,195,1048,330,1035,405,1025,445,1025,490,1025,512,1035,635,1028,665,1030,745,1030,792,1025,845,1048,490,1050,430,1050,460,1065,620,1055,973,1050,310,1068,390,1078,570,1068,520,1080,840,1072,360,1085,420,1090,470,1085,608,1088,820,1085,1266,999,495,1102,345,1110,410,1120,640,1105,660,1102,880,1100,858,1108,945,1120,272,1134,345,1135,305,1147,508,1130,590,1115,788,1115,768,1140,868,1140,227,1156,365,1160,430,1150,462,1148,500,1158,545,1132,605,1158,640,1130,840,1160,415,1195,520,1185,580,1180,700,1175,733,1177,785,1183,655,1160,848,1198,355,1212,402,1217,437,1215,490,1215,590,1205,750,1212,880,1222,1233,1192,380,1246,453,1252,545,1255,625,1250,708,1237,767,1240,920,1250,485,1248,305,1284,484,1290,600,1293,655,1270,725,1270,793,1280,919,1286,1087,1264,650,1312,717,1300,675,1298,650,1350,690,1336,738,1330,872,1342,977,1333,948,1358,605,1378,630,1395,685,1392,750,1375,780,1380,835,1384,856,1410,1150,1354,1163,1394,1250,1389,678,1420,692,1450,652,1458,720,1455,670,1476,625,1500,760,1500,1255,1468,715,1535,770,1560,1104,1556]
hand_m=[207,8,240,16,178,52,313,50,267,92,323,120,335,148,362,144,258,142,200,168,256,218,375,375,328,434,232,500,520,590,340,586,540,636,516,676,464,693,220,690,345,812,378,860,402,860,270,872,540,638,572,412,596,452,664,526,680,412,758,704,449,460,894,320,958,370,806,14,1498,753,1376,1307,828,1460,640,1520,312,1094,242,1140,704,1230]
hand_d=[212,120,238,176,192,184,110,234,194,274,220,288,230,308,462,286,182,358,122,746,918,486,770,700,1130,62,1266,162,1298,14]
hand_g=[688,48,692,68,838,204,1218,568,1060,716,1056,976]
hand_a=[142,480,128,576,24,796,312,942,448,988,90,1032,368,1100,792,1152,884,1160,396,1192,60,1204,76,1380,80,1450]
hand_b=[890,544,538,576,770,888,428,1000,410,1216,708,1348,1112,1372,1072,1440,1208,1450,904,1480,1044,1512]

hair_g=[340,86,382,86,338,106,402,108,462,102,496,104,512,102,530,96,310,120,458,128,590,122,612,128,282,136,300,142,382,124,490,136,516,132,236,156,254,142,342,146,374,146,460,156,544,146,640,156,690,162,812,164,262,172,290,168,336,164,410,160,506,166,546,168,578,166,596,164,620,176,670,184,248,184,340,180,420,182,464,172,498,186,700,186,206,188,288,196,306,192,378,192,660,192,634,198,704,206,254,200,404,206,540,206,646,204,680,210,780,206,816,202,228,218,316,214,462,212,604,216,770,216,790,220,192,228,322,230,490,238,520,236,572,232,626,232,700,228,300,238,446,242,544,242,668,242,744,252,212,258,244,256,330,248,350,254,402,272,456,268,562,252,618,248,690,252,712,256,266,268,308,268,370,266,482,270,580,276,764,274,834,278,200,282,236,280,300,290,348,282,430,286,556,290,604,296,640,292,690,292,852,294,874,292,232,306,322,300,376,298,512,306,454,310,556,312,586,316,700,300,704,318,768,306,740,320,264,316,290,320,426,326,642,322,838,324,322,338,354,336,378,332,400,346,468,334,526,338,594,342,258,344,750,344,662,346,690,340,818,344,440,352,514,356,398,362,258,368,210,358,622,368,662,358,698,366,744,368,838,354,894,368,280,372,296,376,576,386,656,388,504,376,836,372,208,384,384,394,420,396,450,388,476,384,666,396,758,388,854,382,874,392,244,398,296,404,316,404,406,408,502,404,692,406,798,410,842,404,860,412,890,418,936,418,228,420,352,418,534,412,664,414,204,444,252,438,390,436,422,436,350,436,600,426,470,436,534,440,550,450,650,448,684,444,752,440,828,450,210,460,288,462,364,456,454,448,660,462,604,456,730,460,760,460,838,460,866,464,212,480,272,474,308,472,334,476,420,466,580,464,816,472,400,484,378,484,498,480,630,478,712,478,306,494,458,494,586,490,566,484,546,496,666,496,778,498,810,490,238,502,264,500,554,504,202,512,300,504,770,500,694,510,716,510,268,516,320,516,408,524,494,522,606,522,636,528,790,526,868,520,880,516,276,526,342,538,386,532,712,534,818,542,520,542,598,546,920,534,968,538,214,552,290,554,604,552,686,546,766,542,266,560,444,560,470,558,506,570,526,562,756,554,914,546,610,566,340,568,402,580,688,562,228,574,326,574,458,584,490,580,662,572,622,578,748,586,784,588,816,584,292,596,366,592,430,598,500,592,574,592,590,596,716,604,220,608,322,610,346,606,362,618,262,614,440,620,706,618,878,620,940,626,1008,624,296,626,270,632,220,636,594,630,552,634,540,646,584,646,780,642,340,644,264,652,232,662,296,660,346,658,472,650,666,652,802,656,820,648,478,664,250,682,222,678,448,672,320,678,404,678,502,678,868,662,848,680,216,698,300,696,360,684,526,698,554,690,638,700,302,714,320,714,460,712,758,712,810,704,284,730,228,732,350,722,428,718,458,730,522,732,610,728,622,742,746,732,848,726,320,738,382,744,428,746,660,752,238,756,350,768,318,772,700,768,696,784,472,784,426,790,556,792,594,800,758,800,318,794,294,822,322,814,402,818,424,832,448,820,458,826,724,812,734,824,678,824,332,834,472,848,520,840,504,860,520,860,586,858,884,852,930,832,950,836,620,916,722,890,822,980,1392,870,1456,1166,1458,1306,1516,1334]
hair_l=[110,216,68,258,122,258,108,264,154,244,70,306,152,306,98,332,80,344,135,332,130,352,100,368,72,386,148,384,72,412,100,420,125,405,130,430,148,445,135,482,155,490,80,518,145,525,135,552,180,570,156,622,126,686,124,830,190,358,190,405,185,480,98,1206]
hair_b=[384,482,472,592,856,1258,1354,1510]
hair_m=[354,468,178,494,408,537,664,608,175,730,208,736,130,712,290,740,340,600,616,190,675,234,645,458,726,470,1327,630,1425,773,20,890,42,940,118,915,175,980,282,988,372,978,170,1022,180,1045,215,1048,305,1072,188,1136,760,1212,328,1260]
hair_h=[916,160,918,370,976,412,1022,448,1034,500,994,514,1088,538,1038,580,1090,600,1116,642,146,514,1138,874,1158,930,1236,668,1278,418,1278,686,1306,692,1378,700,1226,902,1276,972,1280,1048,1312,1052,1288,1155,1412,1298,1452,972,1370,985]
hair_f=[510,614]
hair_e=[154,252,96,378]

people_f=[714,96,402,88,438,80,496,80,534,80,556,80,220,114,252,118,338,116,382,108,406,120,494,100,538,94,774,116,720,120,138,154,274,154,352,144,482,138,540,126,614,128,578,144,648,146,688,144,782,138,806,144,406,162,524,166,504,170,738,158,640,190,398,176,560,178,580,190,676,174,650,166,720,180,768,176,806,170,840,182,860,194,888,190,398,192,460,188,340,208,410,212,482,220,688,202,708,210,752,208,796,200,818,206,646,228,564,232,684,232,720,240,756,240,776,236,818,236,596,256,560,258,626,250,670,256,738,260,768,254,844,252,878,264,344,268,532,266,634,268,794,272,820,260,856,270,454,276,492,284,536,286,884,296,854,296,452,294,444,306,558,310,698,306,746,314,774,308,794,308,912,308,984,310,598,318,622,322,810,326,862,322,934,326,584,334,646,328,664,340,814,346,860,344,892,330,956,334,990,344,562,340,654,358,1008,360,854,366,936,364,678,370,790,366,766,370,552,378,756,384,964,380,704,390,780,390,516,398,632,402,664,404,724,408,874,404,908,400,936,402,1000,396,792,406,964,410,1010,412,564,426,628,424,690,430,708,424,752,438,788,444,858,444,892,442,944,440,982,426,1018,434,476,450,602,438,1024,450,580,466,628,458,718,462,912,458,950,454,978,460,1000,458,482,472,518,474,600,468,670,476,818,472,850,476,962,474,1042,476,1076,486,488,490,542,490,650,498,790,488,888,492,920,490,1018,494,306,502,372,498,596,500,730,508,762,504,828,510,860,520,950,498,986,516,686,514,604,522,792,518,880,522,968,522,670,532,420,534,436,536,374,548,832,538,764,542,802,548,930,530,880,552,852,552,610,562,658,562,704,566,950,558,826,568,888,560,980,568,1040,566,532,584,570,592,594,588,694,578,770,586,828,578,864,572,920,578,1000,586,556,604,638,610,686,590,726,594,748,598,784,602,852,596,960,608,932,602,1040,598,1020,604,992,616,672,618,804,620,826,618,866,614,586,630,602,630,622,628,732,622,832,632,904,630,934,638,1024,644,672,640,520,650,728,650,850,660,744,662,716,664,868,668,906,660,938,664,968,650,994,654,570,674,892,686,842,682,680,690,710,690,746,694,908,690,1002,690,1018,694,654,682,680,714,698,712,778,694,772,706,834,708,808,718,940,706,986,726,1008,728,878,720,962,716,570,746,586,744,608,746,638,752,696,750,684,758,538,760,726,762,814,744,918,748,1024,752,780,772,800,770,968,770,990,772,916,776,1016,780,748,788,772,798,800,800,836,780,862,786,934,804,1028,796,628,800,654,816,862,804,654,826,750,826,810,834,864,830,882,822,962,826,994,822,1020,820,1044,820,1056,838,534,846,726,852,776,850,816,850,910,838,958,854,480,864,652,886,668,888,698,882,746,878,848,876,830,880,884,874,922,880,958,878,1002,866,1018,876,1044,890,726,902,796,900,826,898,866,900,900,890,570,908,904,912,476,922,686,922,764,920,790,928,858,924,1010,908,994,914,976,928,1030,920,624,946,636,950,664,946,698,952,766,950,872,942,900,944,934,938,964,946,842,954,920,968,962,962,976,970,826,984,854,984,966,980,882,984,896,992,734,996,674,1010,646,1020,730,1024,782,1012,818,1008,930,1012,974,1006,852,1026,884,1042,924,1030,768,1044,820,1052,854,1056,712,1060,800,1068,720,1080,772,1084,634,1084,698,1096,746,1108,632,1114,640,1120,738,1132,738,1150,570,1144,594,1172,702,1198,582,1202,510,1212,656,1236,608,1282,608,1292,644,1276,790,1286,586,1342,274,1352,260,1544,332,1542]
people_b=[76,226,1420,54,1452,58,1338,94,1474,94,1538,56,1552,84,1540,148,1544,208,1506,442,1424,660,1110,906,340,1016,484,1016,1008,1066,964,1116,868,1270,286,960,1474,1292,1460,1484,1530,1482,1496,1560]
people_m=[646,236,590,293,678,358,640,403,696,400,140,800,305,984,324,1000,354,933,422,983,516,922,751,625,845,630,983,295,278,1068,310,1052,532,1114,700,1232,1217,1254,1277,1328,1439,1328,1270,1536]
people_a=[802,222,940,1218,888,1312,1220,1364,196,1428,1498,1534]
people_c=[434,76,578,1052,968,170,1064,16,94,344,1522,820]
people_h=[1244,768,1395,1040,1368,1078,1395,975,1410,1000,1436,920,1495,980]

color_k=[1117,47,1078,79,1033,148,997,184,980,205,1017,212,787,216,825,222,1036,207,1242,222,1038,240,1070,236,575,263,1160,262,1192,268,578,285,604,280,1125,282,1187,287,1260,285,478,298,606,306,1060,300,522,330,550,322,665,316,1133,310,1183,320,857,350,1155,332,570,346,608,358,700,330,715,346,822,343,950,355,985,345,1020,345,1118,345,478,362,500,365,745,373,895,368,1060,365,470,385,560,390,590,388,705,380,910,390,1000,385,1095,390,435,402,755,402,1050,400,1165,403,1195,403,853,410,985,410,390,430,445,424,585,420,490,440,520,440,650,436,690,432,728,432,815,430,905,440,1105,428,360,465,360,482,458,460,535,455,590,445,695,470,785,467,865,460,945,455,980,460,1090,465,1168,463,410,490,460,492,535,490,580,478,620,465,720,488,760,480,830,497,900,483,1010,480,1045,458,1148,487,420,515,490,505,640,495,665,490,858,490,935,488,1045,497,355,530,450,545,520,520,585,520,640,520,700,525,875,512,980,518,1020,525,955,520,450,565,490,540,545,525,640,548,735,545,780,550,815,540,845,535,1070,540,1095,535,1212,538,575,545,600,545,520,555,1025,548,1108,555,1165,552,400,572,450,565,520,580,575,580,670,575,720,555,760,555,848,560,900,560,955,560,1004,575,755,588,815,580,1052,570,505,600,700,595,790,595,830,595,920,590,1050,595,395,614,470,610,520,610,610,630,650,607,795,612,885,610,945,605,975,610,490,620,530,630,660,632,730,640,850,620,1135,632,1255,634,408,646,695,657,760,645,960,640,995,638,1150,647,450,680,510,665,570,675,620,665,645,680,730,660,810,675,850,670,960,660,1068,672,480,680,530,680,765,682,895,690,1025,678,1060,692,455,716,490,716,600,712,680,702,735,708,765,713,885,708,935,712,980,705,530,730,545,712,645,722,890,730,940,735,1015,730,460,754,600,745,950,755,470,776,550,770,575,755,612,770,827,762,1030,765,640,790,795,785,1055,788,445,812,630,805,795,800,827,795,970,808,1090,816,1122,825,500,834,610,820,705,818,670,830,780,825,830,825,878,815,1020,820,1155,853,595,858,555,865,1035,845,1097,855,905,848,870,855,498,880,535,880,600,880,955,865,1015,868,530,898,560,908,610,918,685,888,705,893,825,895,880,880,965,900,655,915,690,910,782,914,850,912,935,912,545,940,650,938,830,930,865,930,895,940,1040,932,1080,925,1115,935,692,943,830,950,1065,960,1148,955,610,965,955,958,427,960,460,962,708,965,995,968,500,980,525,980,1313,968,580,1000,600,990,850,985,925,985,1050,988,825,1000,1055,1000,1385,1013,634,1022,785,1015,865,1030,975,1015,900,1025,920,1027,985,1040,445,1040,495,1040,550,1045,585,1038,710,1037,1068,1032,1055,1042,1140,1040,1217,1050,470,1055,437,1078,745,1050,685,1060,830,1065,905,1060,940,1060,1085,1070,1245,1078,780,1060,600,1085,690,1085,875,1070,965,1078,1000,1076,1302,1083,1318,1082,540,1114,605,1115,627,1118,670,1112,725,1100,755,1098,785,1092,850,1100,880,1103,975,1105,1100,1105,1122,1110,1245,1105,1405,1113,728,1132,850,1135,1130,1122,1185,1130,1225,1115,1245,1132,780,1150,815,1160,855,1150,938,1150,995,1150,1020,1150,1055,1162,1088,1162,690,1170,715,1160,927,1182,1205,1158,1245,1182,1310,1183,800,1197,855,1196,1002,1192,1085,1195,1175,1195,1250,1195,757,1213,950,1206,1200,1215,1240,1220,805,1228,1295,1237,758,1250,810,1247,997,1248,920,1258,1062,1255,1095,1253,1130,1242,1155,1228,1178,1238,1300,1247,910,1270,770,1275,1130,1268,1166,1277,868,1288,775,1285,1260,1298,940,1315,865,1332,885,1325,908,1330,1010,1327,1044,1330,1085,1345,905,1360,900,1365,968,1382,1000,1365,990,1387,910,1398]
color_g=[276,912,234,1362,322,1360,440,678,695,776,912,1368,1024,1386,1366,1342,1474,664]
color_h=[826,424,372,462,484,490,1086,745,1106,750,1124,748,1070,796,1162,758,1192,808,1220,828,1180,886,1226,924,1278,1026,1044,1026,1128,1084,1068,1132,1286,1192,1330,1198,1382,1238,1458,1134,1352,822,1510,600,1510,1288]
color_m=[560,205,678,188,604,455,583,505,672,445,680,690,438,655,574,766,260,848,118,935,176,1024,608,1080,380,1118,236,1174,186,1168,294,1208,520,1218,437,1250,560,1195]
color_b=[278,1294,736,1354,1148,1388,486,1550]
color_c=[378,194,586,450,836,254,1248,288,1324,570,1384,908,372,1026]
color_e=[850,90,892,284,24,410]

water_h=[374,34,488,126,748,132,416,174,526,196,620,175,546,214,628,194,114,234,560,236,716,240,844,240,684,248,652,262,794,276,526,284,728,294,564,310,616,294,382,300,482,316,812,310,350,326,330,334,634,312,528,322,498,328,708,324,616,326,414,346,428,338,452,354,244,360,288,360,642,354,674,350,694,350,738,346,746,342,614,376,430,378,540,358,528,388,738,382,832,380,182,406,234,412,258,420,298,408,370,402,436,400,482,398,692,404,768,412,612,400,660,414,630,420,418,430,470,420,710,436,734,440,310,436,296,460,478,440,520,454,564,448,652,454,326,462,458,472,480,472,832,472,376,480,412,498,212,498,340,490,528,490,568,490,592,478,618,484,640,488,678,490,712,484,738,472,784,488,268,500,122,522,264,518,342,512,412,512,292,528,618,528,700,526,796,510,742,520,830,500,856,534,420,536,516,538,552,530,538,524,738,540,830,540,850,540,296,544,364,544,470,540,480,554,192,552,238,558,138,556,24,552,910,538,932,550,418,564,446,572,666,548,582,558,598,566,374,566,350,568,786,560,214,580,306,578,420,588,442,588,638,568,660,570,746,574,766,566,834,588,332,604,494,594,518,606,540,606,558,594,640,606,704,610,264,618,166,622,830,626,408,630,632,630,338,638,190,642,562,630,720,650,366,664,434,656,462,664,476,664,510,650,552,648,632,666,654,680,748,664,152,664,176,656,206,662,244,662,284,662,306,682,384,680,416,686,532,680,564,676,760,684,794,680,140,692,178,708,210,716,232,696,346,698,474,710,578,708,618,712,706,694,772,712,66,736,114,734,142,736,222,730,280,736,318,732,362,736,440,730,506,716,602,722,690,728,702,740,776,726,94,754,250,744,360,752,488,736,580,746,604,750,748,756,784,742,166,768,70,790,98,794,124,798,234,786,268,770,324,778,384,772,420,752,470,780,508,760,536,780,650,768,774,760,168,792,188,818,262,800,342,808,374,798,508,790,584,794,620,786,690,794,672,806,764,796,126,838,258,840,372,830,480,846,538,826,566,822,712,826,636,830,656,830,150,860,164,866,344,856,380,846,408,866,506,830,540,860,590,846,620,858,630,842,782,856,38,882,148,892,304,864,322,872,344,884,380,884,438,880,450,878,482,902,510,896,530,888,590,900,714,874,182,896,200,900,228,888,378,906,420,920,570,910,652,906,790,896,140,930,214,920,244,930,282,928,322,934,550,930,572,930,718,940,748,934,182,958,216,944,260,966,296,960,384,962,412,954,530,962,574,960,650,960,102,1000,210,996,224,1004,286,1006,318,996,458,976,490,990,536,984,624,966,654,986,248,1022,334,1026,390,1022,436,1026,478,1028,540,1020,576,1006,672,1020,592,1020,262,1058,298,1058,324,1066,418,1050,470,1060,528,1044,676,1026,280,1098,312,1108,340,1092,392,1072,440,1086,490,1062,572,1072,584,1072,620,1068,664,1076,372,1104,394,1114,406,1144,500,1106,538,1086,556,1116,614,1088,716,1104,784,1124,856,1134,610,1156,634,1176,738,1170,826,1190,502,1206,542,1196,578,1196,626,1190,740,1198,744,1222,646,1222,628,1244,704,1246,756,1252,714,1264,340,1254,656,1262,658,1288,700,1302,208,1308,540,1312]
water_h2=[960,718,1030,706,1090,390,1070,578,1030,474,880,774,920,810,896,820,948,830,958,832,996,812,1020,808,990,886,1020,910,952,956,1000,944,962,986,1018,980,932,1000,1042,982,874,1042,1036,1048,900,1086,916,1100,964,1096,1144,1060,1200,1078,1108,1122,1110,718,1150,658,1176,910,1306,940,1524,1116,1412,1182,1460,1258]
water_m=[575,95,697,288,705,410,476,426,732,540,453,545,943,594,1040,643,1067,625,979,670,1028,782,1100,752,1008,830,654,782,436,952,208,952,28,1053,90,1068,452,1100,327,1160,382,1226,1155,1002,1183,1140,1510,1493]
water_g=[518,430,486,944,914,1082,1028,1144,956,1176,654,1216,390,1344,400,1396,564,1428,462,1456,240,1556,790,768,986,820,1500,472,1500,1538]
water_a=[212,442,450,694,308,728,120,800,406,826,1134,1026]
water_b=[42,454,74,512,128,492,152,478,182,576,118,598,100,636,232,766,256,872,616,812,674,880,578,896,758,912,244,1076,744,1098,548,1120]
water_c=[648,20,844,0,1282,688,1308,742,1208,734,1220,724]
water_f=[474,406,502,562]

def place(vals,view):
    x0,y0,sx,sy=view
    n=len(vals)//2
    return [x0+vals[2*i]/sx for i in range(n)],[y0+vals[2*i+1]/sy for i in range(n)]

series={
 "one":[(one_b,B),(one_c,C),(one_e,E),(one_a,A),(one_h,H)],
 "way":[(way_a,A),(way_b,B),(way_c,C),(way_d,D),(way_m,M),(way_h,H)],
 "thing":[(thing_d,D),(thing_m,M),(thing_a,A),(thing_e,E),(thing_h,H)],
 "time":[(time_e,E),(time_m,M),(time_f,F),(time_c,C),(time_a,A),(time_g,G),(time_h,H)],
 "two":[(two_c,C),(two_c2,C),(two_m,M),(two_g,G),(two_e,E),(two_a,A),(two_f,F),(two_h,H)],
 "hand":[(hand_s,(0,0,1568/3096,1568/3096)),(hand_t,T),(hand_m,M),(hand_d,D),(hand_g,G),(hand_a,A),(hand_b,B)],
 "hair":[(hair_g,G),(hair_l,G),(hair_b,B),(hair_m,M),(hair_h,H),(hair_f,F),(hair_e,E)],
 "people":[(people_f,F),(people_b,B),(people_m,M),(people_a,A),(people_c,C),(people_h,H)],
 "color":[(color_k,K),(color_g,G),(color_h,H),(color_m,M),(color_b,B),(color_c,C),(color_e,E)],
 "water":[(water_h,H),(water_h2,H),(water_m,M),(water_g,G),(water_a,A),(water_b,B),(water_c,C),(water_f,F)],
}

p=figure(width=3080,height=2321,output_backend="svg",toolbar_location=None,min_border=0,
 x_range=Range1d(8,3088),y_range=Range1d(2329,8))
p.axis.visible=False;p.grid.visible=False;p.outline_line_color=None
items=[]
for n,c in zip(names,cols):
    xs=[];ys=[]
    for vals,view in series[n]:
        a,b=place(vals,view);xs+=a;ys+=b
    r=p.scatter(xs,ys,size=14,color=c,line_color=None)
    items.append(LegendItem(label=n,renderers=[r]))
L=Legend(items=items,location=(93,1233),padding=14,margin=0,spacing=16,glyph_width=146,glyph_height=81,label_standoff=47,label_width=230,
 label_text_font="DejaVu Sans",label_text_font_size="66px",label_text_color="#000000",border_line_color="#cccccc",border_line_alpha=0.8,border_line_width=8,background_fill_alpha=0.8,border_radius=14)
p.add_layout(L,"center")
open("out.html","w").write(file_html(p,INLINE))
